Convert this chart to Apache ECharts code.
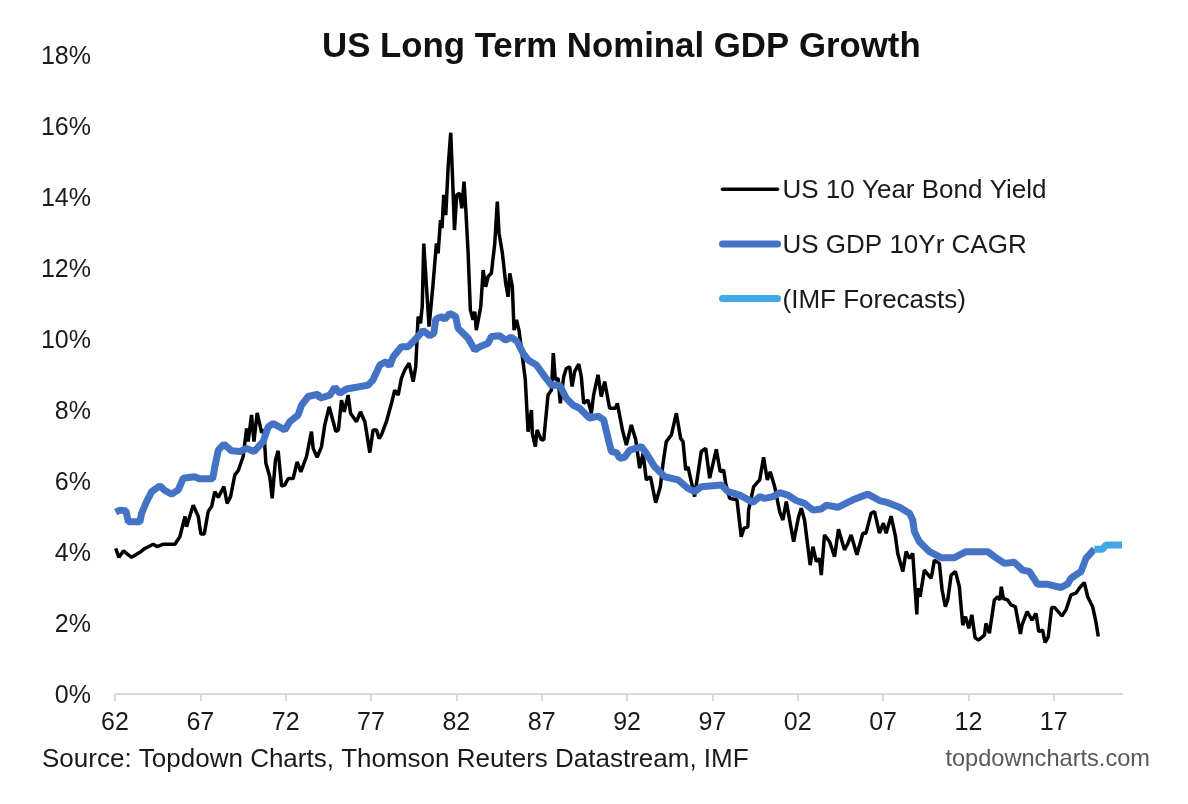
<!DOCTYPE html>
<html>
  <head>
    <meta charset="utf-8" />
    <title>US Long Term Nominal GDP Growth</title>
    <script src="https://cdn.jsdelivr.net/npm/echarts@6/dist/echarts.min.js"></script>
    <style>
      html, body { margin: 0; padding: 0; background: #fff; }
    </style>
  </head>
  <body>
    <div id="chart" style="width: 1188px; height: 804px"></div>
    <script>
      // years are counted from 1900, so 119 is 2019
      var tickYears = [62, 67, 72, 77, 82, 87, 92, 97, 102, 107, 112, 117];

      var bondYears = [
        62.04, 62.23, 62.49, 62.97, 63.46, 63.75, 64.24, 64.48, 64.83, 65.51, 65.8, 66.1, 66.19, 66.58, 66.88, 67.03,
        67.23, 67.46, 67.66, 67.85, 68.05, 68.38, 68.57, 68.77, 69.02, 69.22, 69.51, 69.71, 69.8, 70.0, 70.14, 70.33,
        70.59, 70.72, 70.84, 71.07, 71.21, 71.4, 71.56, 71.76, 71.95, 72.15, 72.44, 72.67, 72.89, 73.22, 73.51, 73.61,
        73.84, 74.1, 74.29, 74.55, 74.94, 75.09, 75.27, 75.43, 75.66, 75.8, 76.15, 76.38, 76.64, 76.93, 77.12, 77.32,
        77.47, 77.61, 77.9, 78.2, 78.39, 78.59, 78.78, 78.98, 79.23, 79.47, 79.62, 79.76, 79.9, 80.0, 80.09, 80.19,
        80.25, 80.4, 80.48, 80.64, 80.83, 80.93, 81.07, 81.16, 81.26, 81.38, 81.52, 81.67, 81.79, 81.89, 82.02, 82.2,
        82.32, 82.45, 82.55, 82.69, 82.82, 82.98, 83.08, 83.17, 83.27, 83.43, 83.57, 83.72, 83.86, 84.05, 84.25, 84.4,
        84.5, 84.7, 84.89, 85.03, 85.13, 85.28, 85.38, 85.52, 85.67, 85.87, 86.04, 86.2, 86.4, 86.45, 86.63, 86.73,
        86.98, 87.12, 87.37, 87.57, 87.68, 87.8, 87.96, 88.09, 88.29, 88.44, 88.64, 88.78, 88.93, 89.17, 89.32, 89.46,
        89.71, 89.91, 90.04, 90.3, 90.49, 90.69, 90.98, 91.33, 91.43, 91.73, 91.96, 92.25, 92.51, 92.74, 92.94, 93.13,
        93.37, 93.68, 93.95, 94.11, 94.3, 94.6, 94.89, 95.14, 95.28, 95.44, 95.57, 95.96, 96.1, 96.35, 96.61, 96.84,
        97.23, 97.46, 97.66, 97.78, 98.01, 98.44, 98.69, 98.85, 99.08, 99.12, 99.42, 99.77, 100.0, 100.22, 100.39, 100.65,
        100.94, 101.13, 101.33, 101.76, 102.05, 102.21, 102.4, 102.73, 102.89, 103.09, 103.28, 103.38, 103.57, 103.87, 104.16, 104.39,
        104.74, 104.94, 105.13, 105.47, 105.82, 106.0, 106.3, 106.5, 106.79, 107.02, 107.18, 107.47, 107.73, 107.86, 108.16, 108.35,
        108.55, 108.74, 108.98, 109.03, 109.17, 109.42, 109.82, 110.01, 110.3, 110.46, 110.65, 110.79, 110.99, 111.24, 111.47, 111.67,
        111.83, 112.02, 112.2, 112.39, 112.59, 112.94, 113.03, 113.23, 113.52, 113.72, 113.85, 113.93, 114.05, 114.3, 114.5, 114.75,
        115.05, 115.14, 115.44, 115.73, 115.96, 116.12, 116.35, 116.49, 116.68, 116.88, 117.04, 117.48, 117.72, 118.01, 118.3, 118.5,
        118.79, 118.99, 119.28, 119.48, 119.61
      ];
      var bondYield = [
        4.1, 3.85, 4.03, 3.85, 3.99, 4.1, 4.22, 4.15, 4.22, 4.22, 4.43, 5.0, 4.71, 5.32, 5.0, 4.51,
        4.51, 5.14, 5.28, 5.7, 5.54, 5.84, 5.37, 5.56, 6.17, 6.29, 6.69, 7.48, 7.11, 7.86, 7.11, 7.92,
        7.36, 7.44, 6.5, 6.12, 5.51, 6.59, 6.85, 5.86, 5.89, 6.07, 6.07, 6.54, 6.26, 6.69, 7.39, 6.92,
        6.67, 6.97, 7.58, 8.09, 7.39, 7.44, 8.28, 7.95, 8.42, 7.91, 7.67, 7.95, 7.67, 6.8, 7.44, 7.44,
        7.2, 7.3, 7.67, 8.19, 8.56, 8.42, 8.89, 9.13, 9.32, 8.8, 9.22, 10.63, 10.44, 10.91, 12.69, 12.68,
        11.47, 10.35, 10.3, 11.57, 12.69, 12.41, 13.35, 13.12, 14.06, 13.49, 14.86, 15.81, 14.39, 13.07, 14.06, 14.1,
        13.68, 14.43, 13.68, 12.41, 10.82, 10.54, 10.77, 10.25, 10.25, 10.91, 11.94, 11.47, 11.76, 11.85, 12.69, 13.87,
        12.98, 12.41, 11.57, 11.19, 11.85, 11.47, 10.25, 10.54, 10.25, 9.5, 8.85, 7.39, 8.0, 7.34, 6.97, 7.44,
        7.16, 7.16, 8.42, 8.56, 9.6, 8.85, 8.89, 8.19, 8.94, 9.17, 9.22, 8.66, 9.08, 9.29, 8.94, 8.19,
        8.28, 7.91, 8.42, 8.99, 8.38, 8.8, 8.05, 8.05, 8.19, 7.44, 7.01, 7.58, 7.16, 6.36, 6.78, 6.03,
        6.12, 5.39, 5.84, 6.5, 7.11, 7.3, 7.91, 7.2, 7.11, 6.31, 6.4, 5.56, 6.03, 6.83, 6.92, 6.08,
        6.89, 6.26, 6.31, 5.93, 5.51, 5.47, 4.43, 4.67, 4.71, 5.18, 5.84, 6.03, 6.67, 6.03, 6.26, 5.84,
        5.14, 4.9, 5.42, 4.29, 4.99, 5.23, 4.9, 3.63, 4.15, 3.73, 3.82, 3.35, 4.48, 4.29, 3.87, 4.64,
        4.06, 4.24, 4.48, 3.92, 4.53, 4.53, 5.09, 5.14, 4.53, 4.81, 4.53, 5.01, 4.43, 3.96, 3.45, 4.01,
        3.82, 3.96, 2.24, 2.98, 2.74, 3.49, 3.26, 3.77, 3.68, 2.93, 2.46, 2.65, 3.35, 3.45, 3.02, 1.94,
        2.18, 1.85, 2.23, 1.59, 1.52, 1.66, 1.99, 1.71, 2.65, 2.74, 2.65, 3.02, 2.69, 2.65, 2.51, 2.46,
        1.69, 1.94, 2.32, 2.08, 2.27, 1.76, 1.8, 1.45, 1.61, 2.44, 2.44, 2.2, 2.37, 2.79, 2.84, 2.98,
        3.14, 2.74, 2.46, 2.01, 1.62
      ];

      var gdpYears = [
        62.04, 62.29, 62.64, 62.78, 63.46, 63.56, 63.85, 64.15, 64.63, 64.93, 65.32, 65.71, 66.0, 66.64, 66.97, 67.72,
        67.85, 68.05, 68.38, 68.83, 69.32, 69.71, 70.14, 70.68, 70.98, 71.27, 71.95, 72.24, 72.73, 72.93, 73.32, 73.9,
        74.0, 74.59, 74.88, 75.17, 75.56, 76.15, 76.83, 77.12, 77.52, 77.9, 78.1, 78.3, 78.78, 79.17, 79.66, 80.05,
        80.44, 80.68, 80.79, 81.13, 81.32, 81.61, 81.96, 82.1, 82.69, 83.08, 83.37, 83.86, 84.05, 84.54, 84.89, 85.22,
        85.56, 85.91, 86.2, 86.69, 87.18, 87.57, 88.05, 88.44, 88.83, 89.22, 89.81, 90.3, 90.63, 90.89, 91.08, 91.38,
        91.57, 91.86, 92.16, 92.84, 93.13, 93.62, 94.21, 94.99, 95.57, 95.96, 96.35, 97.53, 97.91, 98.6, 99.38, 99.77,
        100.06, 100.55, 100.94, 101.43, 101.91, 102.4, 102.89, 103.38, 103.67, 104.35, 105.23, 106.11, 106.79, 107.28, 107.96, 108.55,
        108.74, 108.84, 109.13, 109.72, 110.4, 111.18, 111.86, 113.13, 113.52, 114.11, 114.69, 115.18, 115.57, 116.06, 116.65, 117.43,
        117.82, 118.01, 118.6, 118.89, 119.38
      ];
      var gdpCagr = [
        5.12, 5.18, 5.16, 4.85, 4.85, 5.09, 5.42, 5.7, 5.86, 5.73, 5.63, 5.75, 6.08, 6.12, 6.06, 6.06,
        6.4, 6.87, 7.04, 6.85, 6.83, 6.92, 6.83, 7.11, 7.53, 7.62, 7.44, 7.67, 7.86, 8.14, 8.38, 8.45,
        8.33, 8.42, 8.64, 8.47, 8.59, 8.64, 8.7, 8.85, 9.27, 9.36, 9.24, 9.5, 9.78, 9.78, 10.02, 10.24,
        10.09, 10.16, 10.56, 10.63, 10.56, 10.72, 10.63, 10.3, 10.02, 9.69, 9.78, 9.88, 10.07, 10.09, 9.97, 10.05,
        9.93, 9.6, 9.41, 9.27, 8.94, 8.7, 8.7, 8.33, 8.14, 8.05, 7.77, 7.83, 7.72, 7.2, 6.83, 6.8,
        6.64, 6.67, 6.87, 6.97, 6.78, 6.4, 6.12, 6.03, 5.79, 5.7, 5.84, 5.89, 5.7, 5.6, 5.4, 5.56,
        5.51, 5.56, 5.67, 5.6, 5.45, 5.37, 5.18, 5.21, 5.32, 5.26, 5.47, 5.63, 5.45, 5.39, 5.26, 5.09,
        4.9, 4.57, 4.29, 4.01, 3.84, 3.84, 4.01, 4.01, 3.87, 3.68, 3.71, 3.49, 3.45, 3.09, 3.09, 3.0,
        3.1, 3.26, 3.45, 3.82, 4.08
      ];

      var imfYears = [119.38, 119.87, 120.06, 121];
      var imfCagr = [4.08, 4.08, 4.2, 4.2];

      function zip(xs, ys) {
        return xs.map(function(x, i) {
          return [x, ys[i]];
        });
      }

      var textColor = "#1a1a1a";
      var fontName = "Liberation Sans";
      var black = "#000";
      var blue = "#4472c4";
      var lightBlue = "#41a9e8";

      var option = {
        animation: false,
        backgroundColor: "#fff",
        textStyle: { fontFamily: fontName },
        title: [
          {
            text: "US Long Term Nominal GDP Growth",
            left: 317,
            top: 25,
            textStyle: { fontFamily: fontName, fontSize: 34.8, fontWeight: "bold", color: "#111" },
          },
          {
            text: "Source: Topdown Charts, Thomson Reuters Datastream, IMF",
            left: 37,
            top: 742,
            textStyle: { fontFamily: fontName, fontSize: 26, fontWeight: "normal", color: textColor },
          },
          {
            text: "topdowncharts.com",
            right: 33,
            top: 742,
            textStyle: { fontFamily: fontName, fontSize: 23.6, fontWeight: "normal", color: "#595959" },
          },
        ],
        legend: {
          orient: "vertical",
          left: 714,
          top: 173,
          itemWidth: 55,
          itemHeight: 28,
          itemGap: 28.5,
          itemStyle: { opacity: 0 },
          formatter: function(name) {
            // shifted down a little so the text sits level with its line
            return "{t|" + name + "}";
          },
          textStyle: {
            fontFamily: fontName,
            fontSize: 26,
            color: textColor,
            rich: {
              t: { fontFamily: fontName, fontSize: 26, color: textColor, padding: [4, 0, 0, 0] },
            },
          },
          data: [
            { name: "US 10 Year Bond Yield", lineStyle: { width: 3.5, cap: "round" }, itemStyle: { opacity: 0 } },
            { name: "US GDP 10Yr CAGR", lineStyle: { width: 7, cap: "round" }, itemStyle: { opacity: 0 } },
            { name: "(IMF Forecasts)", lineStyle: { width: 7, cap: "round" }, itemStyle: { opacity: 0 } },
          ],
        },
        grid: { left: 115, right: 66, top: 55, bottom: 110 },
        xAxis: {
          type: "value",
          min: 62,
          max: 121,
          splitLine: { show: false },
          axisLine: { lineStyle: { color: "#d9d9d9", width: 2 } },
          axisTick: {
            show: true,
            length: 7,
            customValues: tickYears,
            lineStyle: { color: "#d9d9d9", width: 2 },
          },
          axisLabel: {
            customValues: tickYears,
            margin: 17,
            fontSize: 25,
            color: textColor,
            formatter: function(val) {
              var yy = val % 100;
              return yy < 10 ? "0" + yy : "" + yy;
            },
          },
        },
        yAxis: {
          type: "value",
          min: 0,
          max: 18,
          interval: 2,
          splitLine: { show: false },
          axisLine: { show: false },
          axisTick: { show: false },
          axisLabel: {
            margin: 24,
            fontSize: 25,
            color: textColor,
            formatter: function(val) {
              return "{v|" + val + "%}";
            },
            rich: {
              v: { fontFamily: fontName, fontSize: 25, color: textColor, padding: [4, 0, 0, 0] },
            },
          },
        },
        series: [
          {
            name: "US 10 Year Bond Yield",
            type: "line",
            showSymbol: false,
            symbol: "none",
            lineStyle: { color: black, width: 3.5 },
            itemStyle: { color: black },
            data: zip(bondYears, bondYield),
          },
          {
            name: "US GDP 10Yr CAGR",
            type: "line",
            showSymbol: false,
            symbol: "none",
            lineStyle: { color: blue, width: 7 },
            itemStyle: { color: blue },
            data: zip(gdpYears, gdpCagr),
          },
          {
            name: "(IMF Forecasts)",
            type: "line",
            showSymbol: false,
            symbol: "none",
            lineStyle: { color: lightBlue, width: 7 },
            itemStyle: { color: lightBlue },
            data: zip(imfYears, imfCagr),
          },
        ],
      };

      var chart = echarts.init(document.getElementById("chart"));
      chart.setOption(option);
    </script>
  </body>
</html>
